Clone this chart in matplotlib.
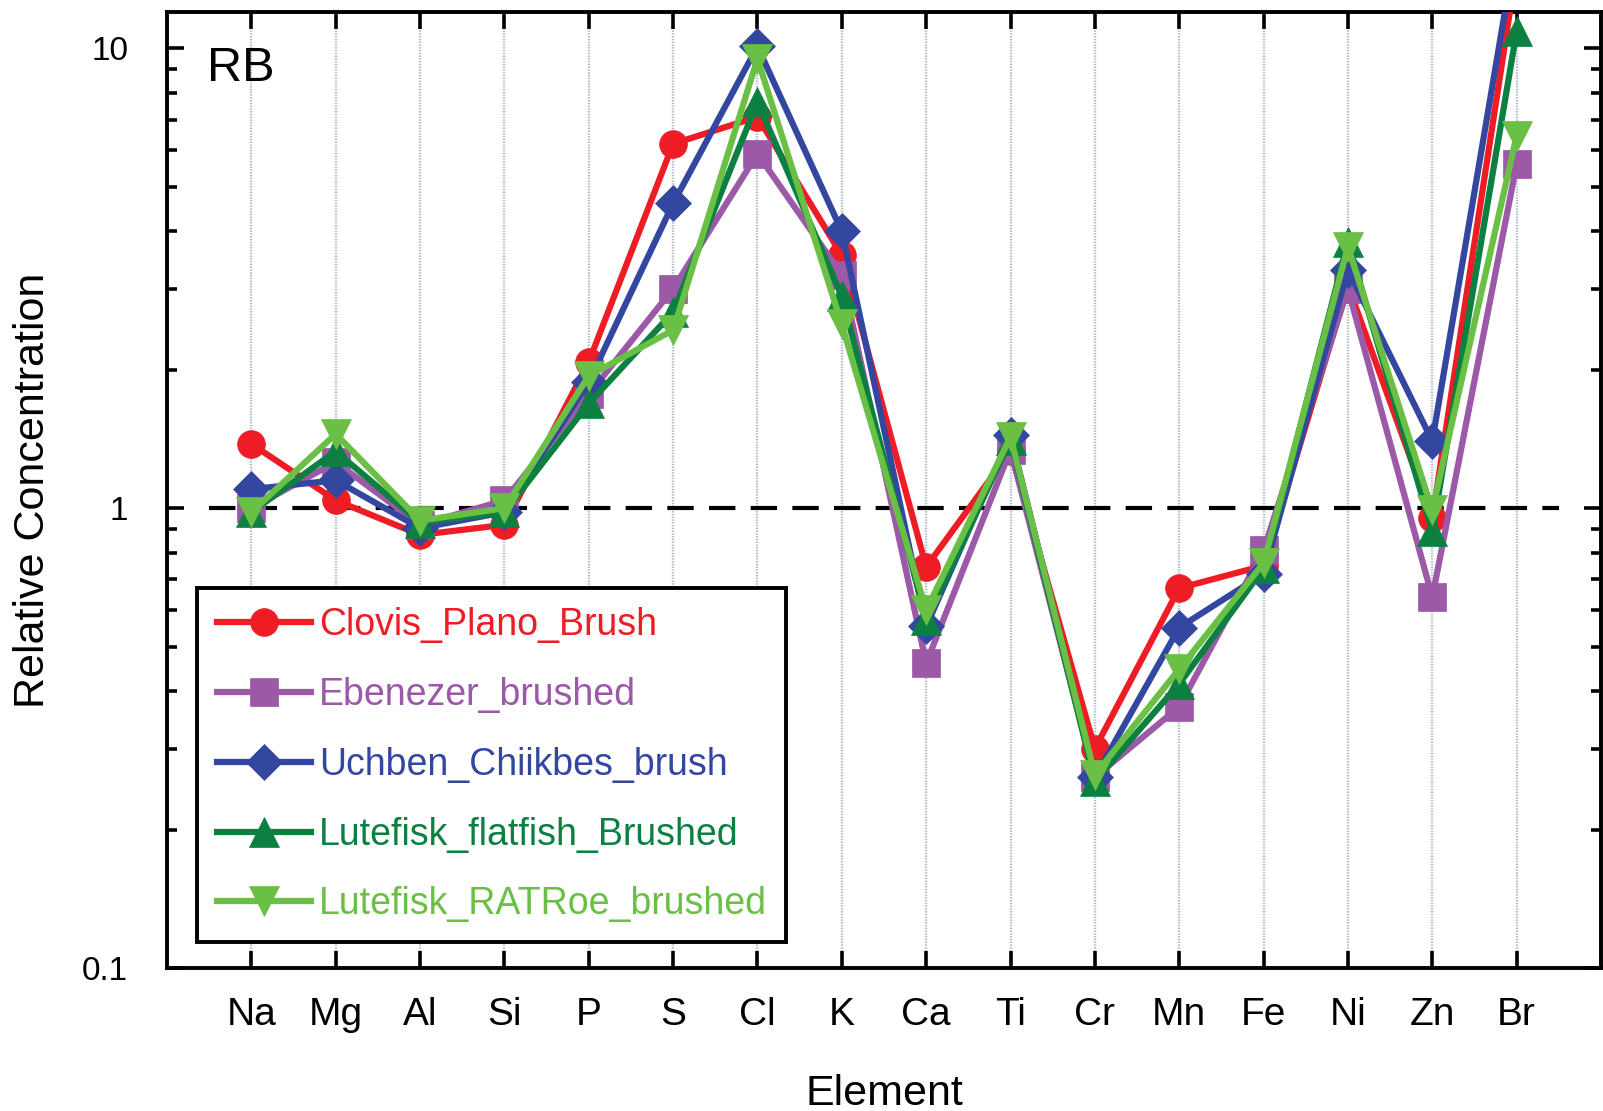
import matplotlib
matplotlib.use("Agg")
import matplotlib.pyplot as plt
from matplotlib.ticker import LogLocator, FixedLocator, FuncFormatter, NullFormatter

plt.rcParams['font.family'] = ['Liberation Sans', 'DejaVu Sans']
plt.rcParams['lines.scale_dashes'] = False

# Elements measured, in plotting order
elements = ['Na', 'Mg', 'Al', 'Si', 'P', 'S', 'Cl', 'K', 'Ca', 'Ti',
            'Cr', 'Mn', 'Fe', 'Ni', 'Zn', 'Br']

# Relative concentrations per sample
clovis_plano_brush = [1.38, 1.04, 0.875, 0.92, 2.08, 6.2, 7.1, 3.55, 0.745, 1.33,
                      0.30, 0.67, 0.75, 3.05, 0.95, 15.0]
ebenezer_brushed = [1.00, 1.26, 0.92, 1.04, 1.77, 3.0, 5.9, 3.22, 0.46, 1.34,
                    0.26, 0.37, 0.81, 3.00, 0.64, 5.6]
uchben_chiikbes_brush = [1.10, 1.15, 0.905, 0.98, 1.88, 4.6, 10.1, 4.0, 0.553, 1.44,
                         0.26, 0.55, 0.72, 3.30, 1.40, 17.0]
lutefisk_flatfish_brushed = [0.98, 1.33, 0.93, 0.98, 1.69, 2.67, 7.65, 2.89, 0.57, 1.41,
                             0.255, 0.415, 0.74, 3.80, 0.89, 10.9]
lutefisk_ratroe_brushed = [0.98, 1.45, 0.94, 1.00, 1.94, 2.44, 9.5, 2.51, 0.60, 1.43,
                           0.263, 0.447, 0.76, 3.70, 0.99, 6.46]

series_labels = ['Clovis_Plano_Brush', 'Ebenezer_brushed', 'Uchben_Chiikbes_brush',
                 'Lutefisk_flatfish_Brushed', 'Lutefisk_RATRoe_brushed']
series_values = [clovis_plano_brush, ebenezer_brushed, uchben_chiikbes_brush,
                 lutefisk_flatfish_brushed, lutefisk_ratroe_brushed]
series_colors = ['#ee1c25', '#9b59a8', '#3447a0', '#0b8040', '#6abf45']
series_markers = ['o', 's', 'D', '^', 'v']
series_msize = [20, 19.5, 18, 22, 22]

y_tick_values = [0.1, 1, 10]
y_tick_labels = ['0.1', '1', '10']

fig = plt.figure(figsize=(16.03, 11.11), dpi=100)
fig.patch.set_facecolor('white')
ax = fig.add_axes([167 / 1603, 1 - 968 / 1111, (1601 - 167) / 1603, (968 - 12) / 1111])

x = list(range(1, len(elements) + 1))

# vertical dotted guides at each element
for xi in x:
    ax.axvline(xi, color='#aebcc6', lw=1.7, ls=(0, (1.0, 1.0)), zorder=0)

# reference level
ax.hlines(1, 0.5, len(elements) + 0.5, colors='black', lw=3,
          linestyles=[(0, (19, 11))], zorder=1)

for vals, lab, col, mk, ms in zip(series_values, series_labels, series_colors,
                                  series_markers, series_msize):
    ax.plot(x, vals, color=col, lw=4.5, marker=mk, markersize=ms,
            markeredgecolor=col, markerfacecolor=col, markeredgewidth=0.5,
            label=lab, zorder=3)

ax.set_yscale('log')
ax.set_ylim(0.1, 12.0)
ax.set_xlim(0, len(elements) + 1)

ax.set_xticks(x)
ax.set_xticklabels(elements)
ax.yaxis.set_major_locator(FixedLocator(y_tick_values))
ax.yaxis.set_major_formatter(FuncFormatter(
    lambda v, p: y_tick_labels[y_tick_values.index(v)] if v in y_tick_values else ''))
ax.yaxis.set_minor_locator(LogLocator(base=10, subs=range(2, 10)))
ax.yaxis.set_minor_formatter(NullFormatter())

ax.tick_params(axis='x', which='major', direction='in', top=True, bottom=True,
               length=12, width=2.6, pad=21, labelsize=28)
ax.tick_params(axis='y', which='major', direction='in', left=True, right=True,
               length=12, width=2.6, pad=28, labelsize=24)
ax.tick_params(axis='y', which='minor', direction='in', left=True, right=True,
               length=7, width=2.6)

for sp in ax.spines.values():
    sp.set_linewidth(2.8)
    sp.set_color('black')

ax.set_xlabel('Element', fontsize=31)
ax.set_ylabel('Relative Concentration', fontsize=31)
ax.xaxis.set_label_coords(0.5, -0.111)
ax.yaxis.set_label_coords(-0.0794, 0.5)

ax.text(0.028, 0.964, 'RB', transform=ax.transAxes, fontsize=35,
        ha='left', va='top')

leg = ax.legend(loc='upper left', bbox_to_anchor=(0.0211, 0.3975),
                borderaxespad=0, fontsize=27, labelcolor='linecolor',
                handlelength=2.5, handletextpad=0.22, borderpad=0.52,
                labelspacing=0.9, numpoints=1, fancybox=False,
                framealpha=1, edgecolor='black')
leg.get_frame().set_linewidth(2.8)
leg.set_zorder(5)

fig.savefig('out.png', dpi=100, facecolor='white')
